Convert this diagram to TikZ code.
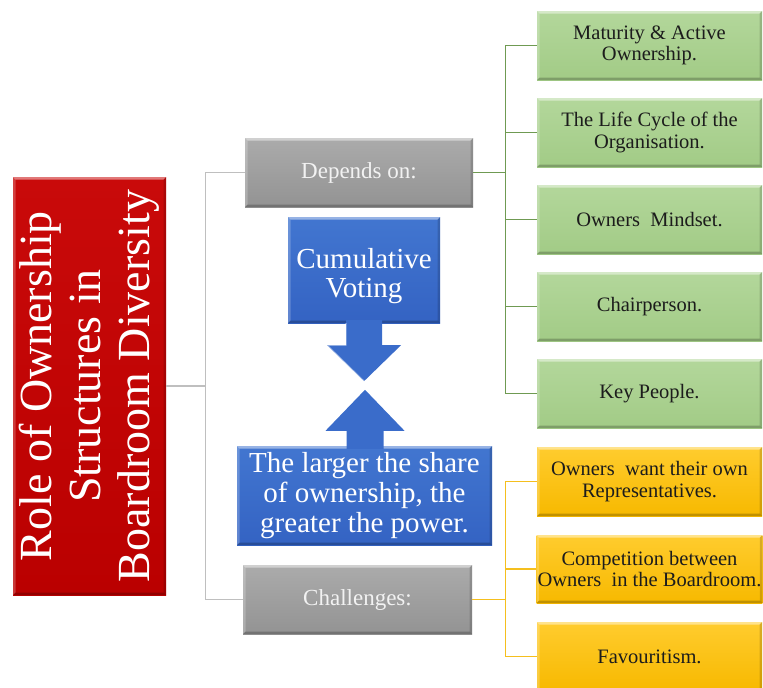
\documentclass[tikz,border=0pt]{standalone}
\usepackage{fontspec}
\setmainfont{Liberation Serif}

\definecolor{redTop}{HTML}{C90A0A}
\definecolor{redBot}{HTML}{BA0000}
\definecolor{greyTop}{HTML}{ABABAB}
\definecolor{greyBot}{HTML}{939393}
\definecolor{blueFill}{HTML}{3A6CCA}
\definecolor{blueTop}{HTML}{4276D0}
\definecolor{blueBot}{HTML}{3463C3}
\definecolor{greenTop}{HTML}{B3D79B}
\definecolor{greenBot}{HTML}{A2CB86}
\definecolor{yellowTop}{HTML}{FFCC2E}
\definecolor{yellowBot}{HTML}{F7B900}
\definecolor{lineGrey}{HTML}{BFBFBF}
\definecolor{lineGreen}{HTML}{6F9A52}
\definecolor{lineYellow}{HTML}{F5BF1E}
\definecolor{inkDark}{HTML}{1C1C1C}

\begin{document}
\begin{tikzpicture}[x=1pt,y=-1pt,
  bevel/.style={path picture={
    \fill[white,opacity=0.45] (path picture bounding box.north west) -- (path picture bounding box.north east)
      -- ([shift={(-2.5pt,-2.5pt)}]path picture bounding box.north east) -- ([shift={(2.5pt,-2.5pt)}]path picture bounding box.north west) -- cycle;
    \fill[white,opacity=0.22] (path picture bounding box.north west) -- ([shift={(2.5pt,-2.5pt)}]path picture bounding box.north west)
      -- ([shift={(2.5pt,2.5pt)}]path picture bounding box.south west) -- (path picture bounding box.south west) -- cycle;
    \fill[black,opacity=0.22] (path picture bounding box.south west) -- (path picture bounding box.south east)
      -- ([shift={(-2.5pt,2.5pt)}]path picture bounding box.south east) -- ([shift={(2.5pt,2.5pt)}]path picture bounding box.south west) -- cycle;
    \fill[black,opacity=0.15] (path picture bounding box.north east) -- ([shift={(-2.5pt,-2.5pt)}]path picture bounding box.north east)
      -- ([shift={(-2.5pt,2.5pt)}]path picture bounding box.south east) -- (path picture bounding box.south east) -- cycle;
  }},
  tile/.style={rectangle, bevel, inner xsep=1pt, inner ysep=2pt, align=center},
  rolebox/.style={tile, top color=redTop, bottom color=redBot, minimum width=153pt, minimum height=418pt},
  greybox/.style={tile, top color=greyTop, bottom color=greyBot, minimum width=228pt, minimum height=69pt,
    text=white!95!black, font=\fontsize{23}{25}\selectfont},
  bluebox/.style={tile, top color=blueTop, bottom color=blueBot, text=white,
    font=\fontsize{29}{30}\selectfont},
  greenbox/.style={tile, top color=greenTop, bottom color=greenBot, minimum width=225pt, minimum height=69pt,
    text=inkDark, font=\fontsize{20.5}{21.5}\selectfont},
  yellowbox/.style={tile, top color=yellowTop, bottom color=yellowBot, minimum width=225pt, minimum height=69pt,
    text=inkDark, font=\fontsize{20.5}{21.5}\selectfont},
  greyline/.style={draw=lineGrey, line width=1.3pt},
  greenline/.style={draw=lineGreen, line width=1.3pt},
  yellowline/.style={draw=lineYellow, line width=1.3pt},
  blockarrow/.style={fill=blueFill},
  arrowshine/.style={draw=white, opacity=0.45, line width=1.4pt, line join=round}
]
\useasboundingbox (0,0) rectangle (763,688);

% main topic
\node[rolebox] (role) at (89.5,386) {};
\node[rotate=90, text=white, align=center, font=\fontsize{46}{49}\selectfont] (roletxt) at (role.center)
  {Role of Ownership\\Structures in\\Boardroom Diversity};

% branches
\node[greybox] (dep) at (359,172.5) {Depends on:};
\node[greybox, minimum width=229pt] (chal) at (357.5,599.5) {Challenges:};

% factors it depends on
\node[greenbox] (g1) at (649.5,45.5)  {Maturity \& Active\\Ownership.};
\node[greenbox] (g2) at (649.5,132.5) {The Life Cycle of the\\Organisation.};
\node[greenbox] (g3) at (649.5,219.5) {Owners\ \ Mindset.};
\node[greenbox] (g4) at (649.5,306.5) {Chairperson.};
\node[greenbox] (g5) at (649.5,393.5) {Key People.};

% challenges
\node[yellowbox] (y1) at (649.5,481.5) {Owners\ \ want their own\\Representatives.};
\node[yellowbox, minimum height=68pt] (y2) at (649.5,569) {Competition between\\Owners\ \ in the Boardroom.};
\node[yellowbox] (y3) at (649.5,656.5) {Favouritism.};

% connectors
\draw[greyline] (role.east) -- ++(39,0) coordinate (rj) |- (dep.west);
\draw[greyline] (rj) |- (chal.west);

\draw[greenline] (dep.east) -- ++(32,0) coordinate (gj);
\foreach \n in {g1,g2,g3,g4,g5} \draw[greenline] (gj) |- (\n.west);

\draw[yellowline] (chal.east) -- ++(33,0) coordinate (yj);
\foreach \n in {y1,y2,y3} \draw[yellowline] (yj) |- (\n.west);

% cumulative voting callout with its down arrow
\node[bluebox, minimum width=152pt, minimum height=106pt] (cum) at (364,270) {};
\fill[blockarrow] (cum.south) ++(-18,-3) -- ++(0,25) -- ++(-19,0) -- ++(37,36) -- ++(37,-36) -- ++(-19,0) -- ++(0,-25) -- cycle;
\draw[arrowshine] (cum.south) ++(-18,0) -- ++(0,22) -- ++(-19,0) -- ++(37,36);
\node[text=white, align=center, font=\fontsize{29}{29}\selectfont] (cumtxt) at (364,276) {Cumulative\\Voting};

% ownership share callout with its up arrow
\node[bluebox, minimum width=255pt, minimum height=99pt] (share) at (364.5,495.5)
  {The larger the share\\of ownership, the\\greater the power.};
\fill[blockarrow] (share.north) ++(-18,3) -- ++(0,-18) -- ++(-21,0) -- ++(39.5,-41) -- ++(39.5,41) -- ++(-21,0) -- ++(0,18) -- cycle;
\end{tikzpicture}
\end{document}
